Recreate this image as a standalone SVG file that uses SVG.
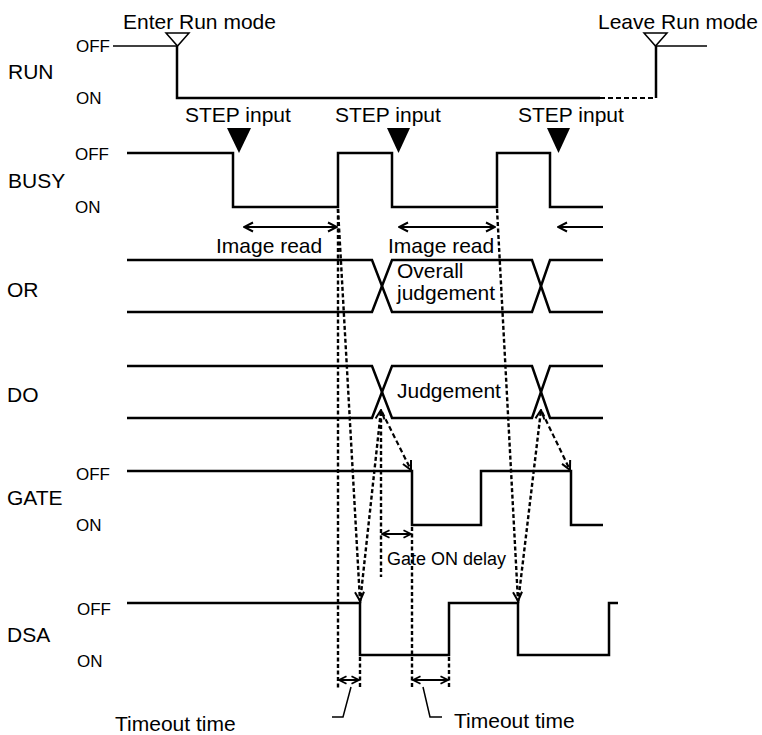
<svg xmlns="http://www.w3.org/2000/svg" width="762" height="735" viewBox="0 0 762 735">
<defs>
<style>
.t{font-family:"Liberation Sans",Arial,Helvetica,sans-serif;font-size:21px;fill:#000}
.s{font-family:"Liberation Sans",Arial,Helvetica,sans-serif;font-size:17px;fill:#000}
.g{font-family:"Liberation Sans",Arial,Helvetica,sans-serif;font-size:18px;fill:#000}
.w{fill:none;stroke:#000;stroke-width:2.5;stroke-linejoin:miter}
.thin{fill:none;stroke:#000;stroke-width:1.5}
.dot{fill:none;stroke:#000;stroke-width:2.4;stroke-dasharray:4 2.5}
.dash{fill:none;stroke:#000;stroke-width:2.2;stroke-dasharray:5 3}
.dim{fill:none;stroke:#000;stroke-width:2}
</style>
<marker id="ah" viewBox="0 0 12 12" markerWidth="12" markerHeight="12" refX="11" refY="6" orient="auto-start-reverse" markerUnits="userSpaceOnUse">
<path d="M2,1.5 L11,6 L2,10.5" fill="none" stroke="#000" stroke-width="2"/>
</marker>
<marker id="ahs" viewBox="0 0 12 12" markerWidth="10" markerHeight="10" refX="11" refY="6" orient="auto-start-reverse" markerUnits="userSpaceOnUse">
<path d="M2,1.5 L11,6 L2,10.5" fill="none" stroke="#000" stroke-width="2.2"/>
</marker>
</defs>
<rect width="762" height="735" fill="#fff"/>

<g id="run">
<text class="t" x="8" y="79">RUN</text>
<text class="s" x="76" y="52">OFF</text>
<text class="s" x="76" y="104">ON</text>
<path class="thin" d="M113,46 H177"/>
<path class="w" d="M177,46 V98 H600"/>
<path class="dash" d="M600,98 H656"/>
<path class="w" d="M656,98 V46"/>
<path class="thin" d="M656,46 H707"/>
<polygon points="166,33 189,33 177.5,46" fill="#fff" stroke="#000" stroke-width="1.5"/>
<polygon points="644,33 667,33 655.5,46" fill="#fff" stroke="#000" stroke-width="1.5"/>
<text class="t" x="123" y="29">Enter Run mode</text>
<text class="t" x="598" y="29">Leave Run mode</text>
</g>

<g id="busy">
<text class="t" x="8" y="188">BUSY</text>
<text class="s" x="75" y="160">OFF</text>
<text class="s" x="75" y="213">ON</text>
<path class="w" d="M127,153 H233 V207 H338 V153 H392 V207 H497 V153 H550 V207 H603"/>
<polygon points="227,128 251,128 239,153" fill="#000"/>
<polygon points="387,128 410,128 398.5,153" fill="#000"/>
<polygon points="547,128 570,128 558.5,153" fill="#000"/>
<text class="t" x="185" y="122">STEP input</text>
<text class="t" x="335" y="122">STEP input</text>
<text class="t" x="518" y="122">STEP input</text>
<text class="t" x="216" y="253">Image read</text>
<text class="t" x="388" y="253">Image read</text>
</g>

<g id="or">
<text class="t" x="7" y="297">OR</text>
<path class="w" d="M127,260 H372 L392,312 H532 L550,260 H603"/>
<path class="w" d="M127,312 H372 L392,260 H532 L550,312 H603"/>
<text class="t" x="397" y="278">Overall</text>
<text class="t" x="397" y="300">judgement</text>
</g>

<g id="do">
<text class="t" x="7" y="402">DO</text>
<path class="w" d="M127,366 H372 L392,418 H532 L550,366 H603"/>
<path class="w" d="M127,418 H372 L392,366 H532 L550,418 H603"/>
<text class="t" x="397" y="398">Judgement</text>
</g>

<g id="gate">
<text class="t" x="7" y="505">GATE</text>
<text class="s" x="76" y="480">OFF</text>
<text class="s" x="76" y="531">ON</text>
<path class="w" d="M127,471 H412 V525 H481 V471 H571 V525 H603"/>
<text class="g" x="387" y="565">Gate ON delay</text>
</g>

<g id="dsa">
<text class="t" x="7" y="642">DSA</text>
<text class="s" x="77" y="615">OFF</text>
<text class="s" x="77" y="667">ON</text>
<path class="w" d="M127,603 H360 V655 H449 V603 H518 V655 H609 V603 H618"/>
<text class="t" x="115" y="731">Timeout time</text>
<text class="t" x="454" y="728">Timeout time</text>
</g>

<g id="connectors">
<path class="dot" d="M338,209 V688"/>
<path class="dot" d="M338,209 L360,601" marker-end="url(#ah)"/>
<path class="dot" d="M360,603 L381,410" marker-end="url(#ah)"/>
<path class="dot" d="M381,412 V577"/>
<path class="dash" d="M382,412 L411,470" marker-end="url(#ah)"/>
<path class="dot" d="M360,657 V688"/>
<path class="dot" d="M412,527 V688"/>
<path class="dot" d="M449,657 V688"/>
<path class="dot" d="M497,209 L518,601" marker-end="url(#ah)"/>
<path class="dot" d="M518,603 L541,410" marker-end="url(#ah)"/>
<path class="dash" d="M542,412 L570,470" marker-end="url(#ah)"/>

<path class="dim" d="M244,227 H337" marker-start="url(#ah)" marker-end="url(#ah)"/>
<path class="dim" d="M399,227 H495" marker-start="url(#ah)" marker-end="url(#ah)"/>
<path class="dim" d="M558,227 H603" marker-start="url(#ah)"/>
<path class="dim" d="M382,534 H411" marker-start="url(#ahs)" marker-end="url(#ahs)"/>
<path class="dim" d="M339,680 H359" marker-start="url(#ahs)" marker-end="url(#ahs)"/>
<path class="dim" d="M413,680 H448" marker-start="url(#ahs)" marker-end="url(#ahs)"/>
<polyline class="thin" points="351,687 343,717 332,717"/>
<polyline class="thin" points="423,687 430,717 442,717"/>
</g>
</svg>
